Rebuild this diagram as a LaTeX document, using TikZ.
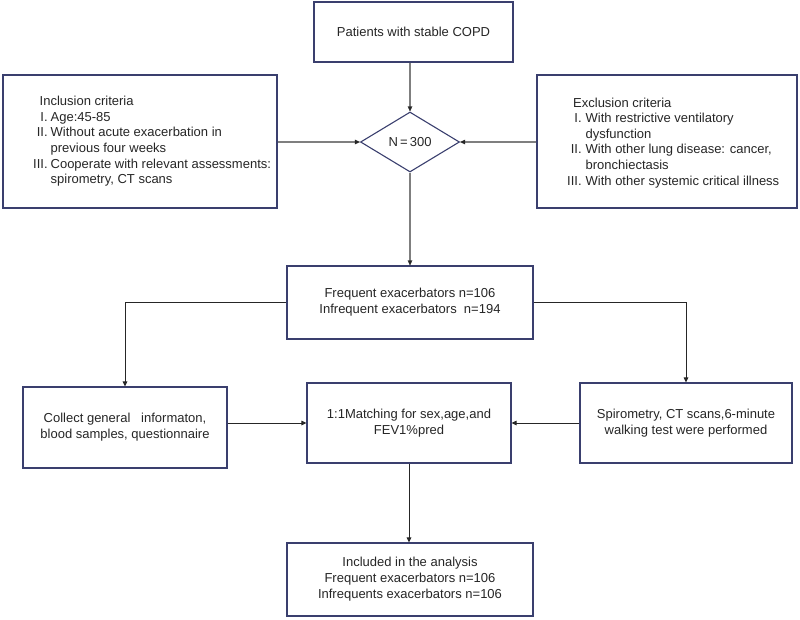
\documentclass[tikz,border=0pt]{standalone}
\usepackage{fontspec}
\setmainfont{Liberation Sans}
\usetikzlibrary{arrows.meta,shapes.geometric}
\definecolor{boxline}{HTML}{3A3F6E}
\definecolor{grayline}{HTML}{7F7F7F}
\definecolor{darkline}{HTML}{262626}
\definecolor{txt}{HTML}{262626}
\tikzset{
  box/.style={draw=boxline, line width=1.1pt, fill=white, inner sep=0pt, align=center, text=txt, font=\fontsize{13}{16}\selectfont},
  crit/.style={inner sep=0pt, anchor=west, text=txt, font=\fontsize{13}{15.6}\selectfont},
  garrow/.style={draw=grayline, line width=1.4pt, -{Triangle[length=5pt,width=4.5pt,color=darkline,line width=0.2pt]}},
  darrow/.style={draw=darkline, line width=1pt, -{Triangle[length=5pt,width=4.5pt]}},
}
\begin{document}
\begin{tikzpicture}[x=1pt,y=-1pt]
\useasboundingbox (0,0) rectangle (800,619);
% boxes
\node[box, minimum width=199pt, minimum height=60pt] (top) at (413.5,32) {Patients with stable COPD};
\node[box, minimum width=274pt, minimum height=133pt] (incl) at (140,141.5) {};
\node[crit] (incltext) at (33,141.5) {\begin{tabular}{@{}r@{\hspace{3pt}}l@{}}
\multicolumn{2}{@{}l}{\hspace{6.5pt}Inclusion criteria}\\
I. & Age:45-85\\
II. & Without acute exacerbation in\\
 & previous four weeks\\
III. & Cooperate with relevant assessments:\\
 & spirometry, CT scans
\end{tabular}};
\node[box, minimum width=260pt, minimum height=133pt] (excl) at (667,141.5) {};
\node[crit] (excltext) at (567,143) {\begin{tabular}{@{}r@{\hspace{4pt}}l@{}}
\multicolumn{2}{@{}l}{\hspace{6pt}Exclusion criteria}\\
I. & With restrictive ventilatory\\
 & dysfunction\\
II. & With other lung disease: cancer,\\
 & bronchiectasis\\
III. & With other systemic critical illness
\end{tabular}};
\node[draw=boxline, line width=1.1pt, diamond, aspect=1.65, minimum width=99pt, minimum height=60pt, inner sep=0pt, text=txt, font=\fontsize{13}{16}\selectfont] (dia) at (410,142) {N\,=\,300};
\node[box, minimum width=246pt, minimum height=73pt] (freq) at (410,302.5) {Frequent exacerbators n=106\\Infrequent exacerbators~~n=194};
\node[box, minimum width=204pt, minimum height=81pt] (left) at (125,427.5) {Collect general~~~informaton,\\blood samples, questionnaire};
\node[box, minimum width=204pt, minimum height=80pt] (match) at (409,423) {1:1Matching for sex,age,and\\FEV1\%pred};
\node[box, minimum width=212pt, minimum height=80pt] (right) at (686,423) {Spirometry, CT scans,6-minute\\walking test were performed};
\node[box, minimum width=246pt, minimum height=73pt] (bot) at (410,579.5) {Included in the analysis\\Frequent exacerbators n=106\\Infrequents exacerbators n=106};
% connectors
\draw[garrow] (top.south -| dia.north) -- (dia.north);
\draw[garrow] (incl.east |- dia.west) -- (dia.west);
\draw[garrow] (excl.west |- dia.east) -- (dia.east);
\draw[garrow] (dia.south) -- (dia.south |- freq.north);
\draw[darrow] (freq.west) -| (left.north);
\draw[darrow] (freq.east) -| (right.north);
\draw[darrow] (left.east |- match.west) -- (match.west);
\draw[darrow] (right.west |- match.east) -- (match.east);
\draw[darrow] (match.south) -- (match.south |- bot.north);
\end{tikzpicture}
\end{document}
